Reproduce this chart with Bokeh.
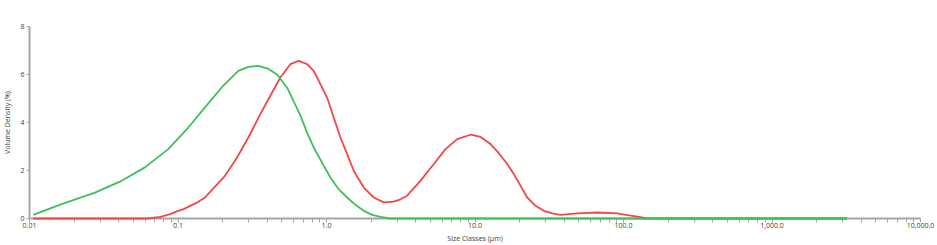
from bokeh.plotting import figure
from bokeh.models import FixedTicker, Range1d, CustomJSTickFormatter
from bokeh.embed import file_html
from bokeh.resources import INLINE

# ---- data ----
green_size = [0.0106, 0.01643, 0.0276, 0.0417, 0.0599, 0.0860, 0.1173, 0.152,
              0.1967, 0.2548, 0.298, 0.3476, 0.406, 0.465, 0.5427, 0.667, 0.740,
              0.820, 0.934, 1.062, 1.208, 1.377, 1.565, 1.782, 2.029, 2.307, 2.69,
              3200.0]
green_vol = [0.15, 0.60, 1.08, 1.57, 2.13, 2.89, 3.79, 4.63,
             5.46, 6.15, 6.32, 6.36, 6.23, 6.00, 5.45, 4.30, 3.58,
             2.96, 2.33, 1.71, 1.22, 0.875, 0.57, 0.32, 0.15, 0.07, 0.0,
             0.0]

red_size = [0.0106, 0.063, 0.076, 0.0888, 0.1003, 0.109, 0.134, 0.152, 0.165,
            0.203, 0.2183, 0.2498, 0.2977, 0.3585, 0.406, 0.489, 0.571, 0.650,
            0.740, 0.820, 0.910, 1.009, 1.118, 1.241, 1.377, 1.525, 1.782, 2.08,
            2.43, 2.837, 3.15, 3.49, 4.29, 5.28, 6.33, 7.59, 9.33, 10.9, 12.72,
            14.47, 16.48, 18.26, 20.26, 22.47, 25.56, 29.08, 33.13, 37.7, 48.9,
            66.6, 90.8, 103.6, 124.0, 144.5, 3200.0]
red_vol = [0.0, 0.0, 0.07, 0.18, 0.32, 0.39, 0.66, 0.875, 1.12,
           1.71, 1.99, 2.54, 3.375, 4.35, 4.97, 5.875, 6.43, 6.57,
           6.43, 6.15, 5.60, 5.04, 4.21, 3.375, 2.68, 1.99, 1.29, 0.875,
           0.67, 0.70, 0.80, 0.95, 1.57, 2.27, 2.89, 3.31, 3.49, 3.40, 3.10,
           2.72, 2.27, 1.85, 1.36, 0.875, 0.53, 0.32, 0.21, 0.15, 0.21,
           0.25, 0.21, 0.15, 0.08, 0.0, 0.0]

x_ticks = [0.01, 0.1, 1.0, 10.0, 100.0, 1000.0, 10000.0]
x_tick_labels = ["0.01", "0.1", "1.0", "10.0", "100.0", "1,000.0", "10,000.0"]
y_ticks = [0, 2, 4, 6, 8]

FONT = "Open Sans"
AXIS_COL = "#a6a6a6"
TEXT_COL = "#404040"

p = figure(width=937, height=245, x_axis_type="log",
           x_range=Range1d(0.01, 10000), y_range=Range1d(0, 8),
           output_backend="svg", toolbar_location=None,
           min_border_left=29, min_border_right=17,
           min_border_top=26, min_border_bottom=27)
p.grid.visible = False
p.outline_line_color = None
p.background_fill_color = "white"

minor = [k * d for d in [0.01, 0.1, 1, 10, 100, 1000] for k in range(2, 10)]
p.xaxis.ticker = FixedTicker(ticks=x_ticks, minor_ticks=minor)
p.xaxis.formatter = CustomJSTickFormatter(
    args=dict(vals=x_ticks, labs=x_tick_labels),
    code="""
    for (let i = 0; i < vals.length; i++) {
        if (Math.abs(Math.log10(tick) - Math.log10(vals[i])) < 1e-6) return labs[i];
    }
    return '';
    """)
p.yaxis.ticker = FixedTicker(ticks=y_ticks, minor_ticks=[])

for ax in (p.xaxis[0], p.yaxis[0]):
    ax.axis_line_color = AXIS_COL
    ax.axis_line_width = 2
    ax.major_tick_line_color = AXIS_COL
    ax.minor_tick_line_color = AXIS_COL
    ax.major_tick_line_width = 1
    ax.minor_tick_line_width = 1
    ax.major_tick_in = 0
    ax.minor_tick_in = 0
    ax.major_label_text_font = FONT
    ax.major_label_text_font_size = "7px"
    ax.major_label_text_color = TEXT_COL
    ax.axis_label_text_font = FONT
    ax.axis_label_text_font_size = "7px"
    ax.axis_label_text_font_style = "normal"
    ax.axis_label_text_color = TEXT_COL

p.xaxis.major_tick_out = 4
p.xaxis.minor_tick_out = 4
p.xaxis.major_label_standoff = 0
p.xaxis.axis_label = "Size Classes (µm)"
p.xaxis.axis_label_standoff = 3

p.yaxis.major_tick_out = 3
p.yaxis.minor_tick_out = 0
p.yaxis.major_label_standoff = 2
p.yaxis.axis_label = "Volume Density (%)"
p.yaxis.axis_label_standoff = 5

p.line(red_size, red_vol, line_color="#ef4848", line_width=1.8, level="overlay")
p.line(green_size, green_vol, line_color="#3fbf5c", line_width=1.8, level="overlay")

open("out.html", "w").write(file_html(p, INLINE))
